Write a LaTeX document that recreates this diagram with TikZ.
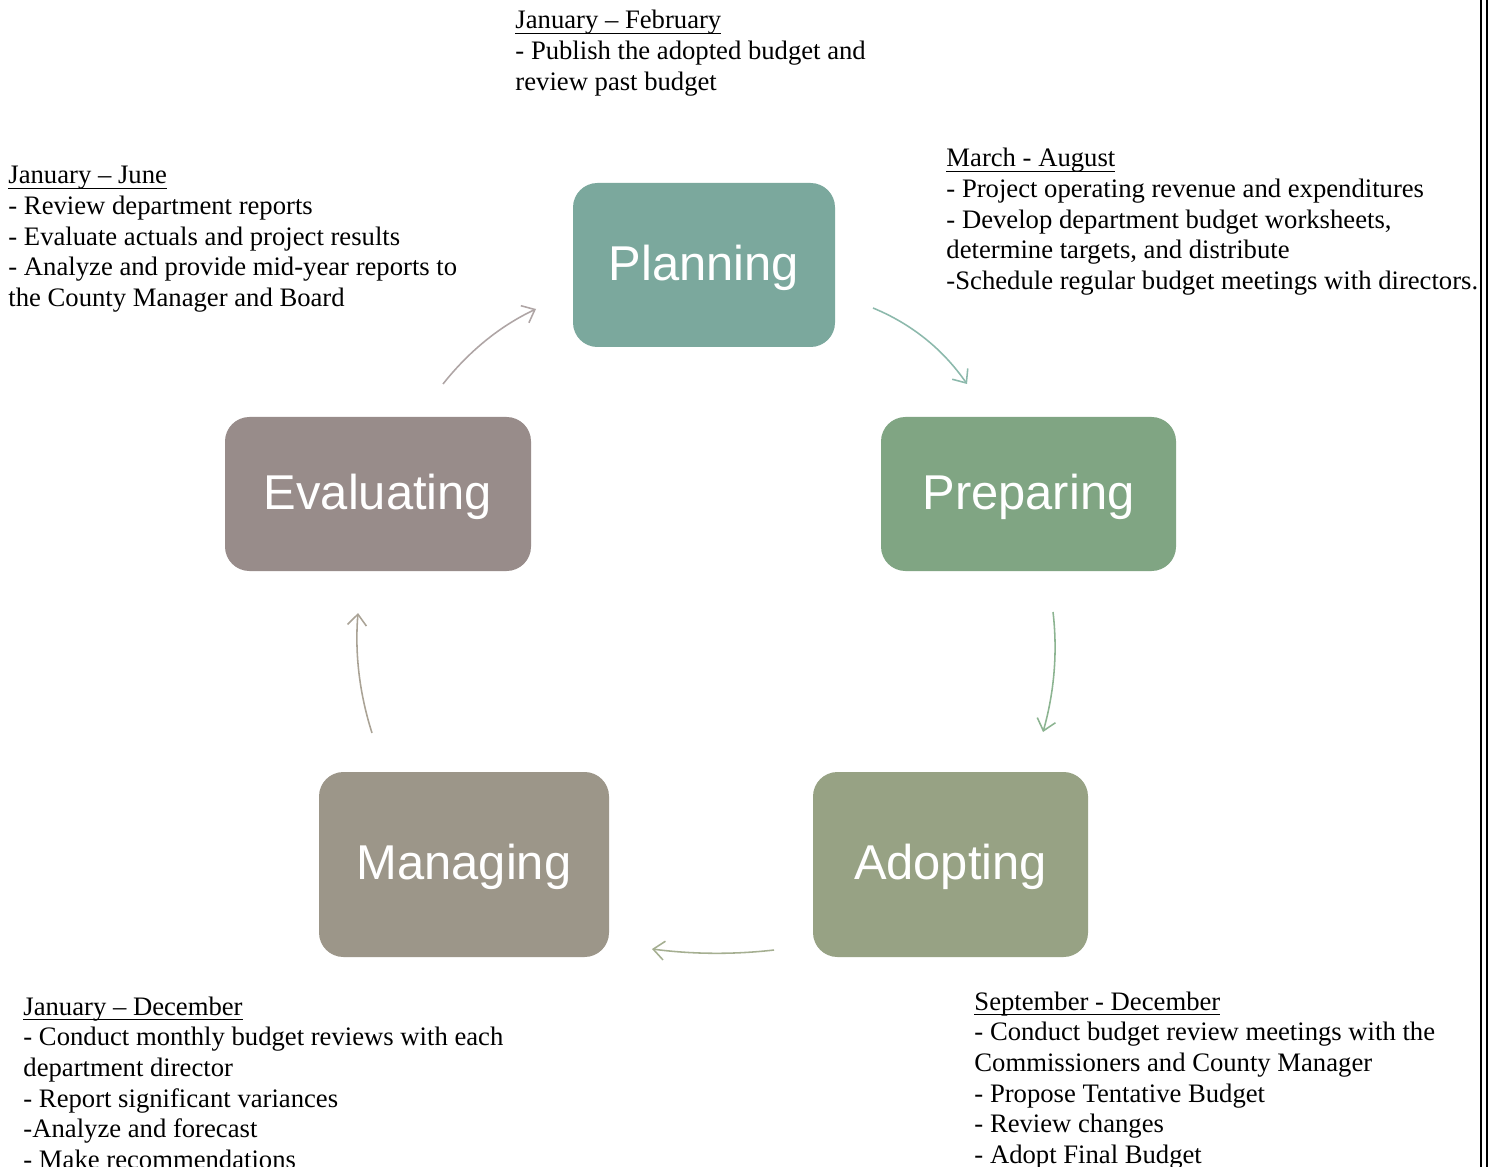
\documentclass[tikz,border=0pt]{standalone}
\usepackage{fontspec}
\setmainfont{Liberation Serif}
\newfontfamily\boxfont{Liberation Sans}
\usetikzlibrary{arrows.meta}
\definecolor{cPlan}{RGB}{123,168,157}
\definecolor{cPrep}{RGB}{128,165,131}
\definecolor{cAdopt}{RGB}{151,162,132}
\definecolor{cManage}{RGB}{156,150,137}
\definecolor{cEval}{RGB}{152,140,138}
\definecolor{aPlan}{RGB}{140,185,172}
\definecolor{aPrep}{RGB}{140,180,145}
\definecolor{aAdopt}{RGB}{165,175,145}
\definecolor{aManage}{RGB}{170,163,150}
\definecolor{aEval}{RGB}{175,165,165}
\tikzset{
  phase/.style={rounded corners=11pt, inner sep=0pt, text=white, text depth=2pt,
    font=\boxfont\fontsize{22}{26}\selectfont},
  notes/.style={anchor=base west, inner sep=0pt, font=\fontsize{12}{13.8}\selectfont},
  cyc/.style={line width=0.7pt, -{Straight Barb[length=5pt, width=8.5pt, line width=0.7pt]}}
}
\newcommand{\notelines}[1]{\begin{tabular}[t]{@{}l@{}}#1\end{tabular}}
\newcommand{\ulin}[1]{\setbox0\hbox{#1}\rlap{\rule[-2.4pt]{\wd0}{0.6pt}}\box0}
\begin{document}
\begin{tikzpicture}[x=0.45pt, y=-0.45pt]
\useasboundingbox (0,0) rectangle (1494,1167);
\fill[white] (0,0) rectangle (1494,1167);
% right double border
\draw[line width=1.1pt] (1480.7,0) -- (1480.7,1167);
\draw[line width=1.1pt] (1486.7,0) -- (1486.7,1167);

% phase boxes
\node[phase, fill=cPlan, minimum width=117.9pt, minimum height=73.8pt] (plan) at (704,265) {Planning};
\node[phase, fill=cPrep, minimum width=132.75pt, minimum height=69.3pt] (prep) at (1028.5,494) {Preparing};
\node[phase, fill=cAdopt, minimum width=123.75pt, minimum height=83.25pt] (adopt) at (950.5,864.5) {Adopting};
\node[phase, fill=cManage, minimum width=130.5pt, minimum height=83.25pt] (manage) at (464,864.5) {Managing};
\node[phase, fill=cEval, minimum width=137.7pt, minimum height=69.3pt] (eval) at (378,494) {Evaluating};

% cycle arrow end points
\coordinate (p1s) at (873,308);  \coordinate (p1e) at (967,384);
\coordinate (p2s) at (1053,612); \coordinate (p2e) at (1043,732);
\coordinate (p3s) at (774,950);  \coordinate (p3e) at (652,949);
\coordinate (p4s) at (372,733);  \coordinate (p4e) at (358,613);
\coordinate (p5s) at (443,384);  \coordinate (p5e) at (536,309);

\draw[cyc, draw=aPlan] (p1s) .. controls (911.7,324) and (943,349.3) .. (p1e);
\draw[cyc, draw=aPrep] (p2s) .. controls (1057.7,652) and (1054.3,692) .. (p2e);
\draw[cyc, draw=aAdopt] (p3s) .. controls (733.3,954.7) and (692.7,954.3) .. (p3e);
\draw[cyc, draw=aManage] (p4s) .. controls (359.3,693) and (354.7,653) .. (p4e);
\draw[cyc, draw=aEval] (p5s) .. controls (468.3,352) and (499.3,326.3) .. (p5e);

% notes
\node[notes] (nTop) at (515,29) {\notelines{\ulin{January – February}\\
- Publish the adopted budget and\\
review past budget}};

\node[notes] (nTL) at (8,184) {\notelines{\ulin{January – June}\\
- Review department reports\\
- Evaluate actuals and project results\\
- Analyze and provide mid-year reports to\\
the County Manager and Board}};

\node[notes] (nTR) at (946,167) {\notelines{\ulin{March - August}\\
- Project operating revenue and expenditures\\
- Develop department budget worksheets,\\
determine targets, and distribute\\
-Schedule regular budget meetings with directors.}};

\node[notes] (nBL) at (23,1015) {\notelines{\ulin{January – December}\\
- Conduct monthly budget reviews with each\\
department director\\
- Report significant variances\\
-Analyze and forecast\\
- Make recommendations}};

\node[notes] (nBR) at (974,1010) {\notelines{\ulin{September - December}\\
- Conduct budget review meetings with the\\
Commissioners and County Manager\\
- Propose Tentative Budget\\
- Review changes\\
- Adopt Final Budget}};
\end{tikzpicture}
\end{document}
